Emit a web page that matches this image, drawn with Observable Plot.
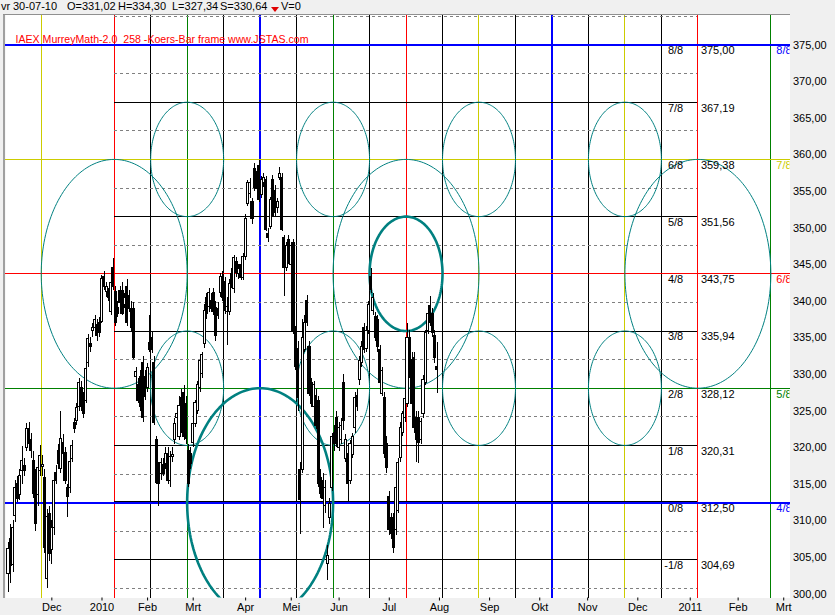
<!DOCTYPE html>
<html>
<head>
<meta charset="utf-8">
<script src="https://cdn.jsdelivr.net/npm/d3@7"></script>
<script src="https://cdn.jsdelivr.net/npm/@observablehq/plot@0.6"></script>
<style>
  html, body { margin: 0; padding: 0; background: #f0f0f0; }
  #wrap { position: relative; width: 835px; height: 615px; overflow: hidden; background: #f0f0f0;
          font-family: "Liberation Sans", Arial, sans-serif; }
  .hd { position: absolute; top: 0; font-size: 11px; line-height: 13px; color: #000; white-space: pre; }
  #tri { position: absolute; left: 271px; top: 7px; width: 0; height: 0;
         border-left: 4.5px solid transparent; border-right: 4.5px solid transparent; border-top: 5px solid #e00000; }
  #bl { position: absolute; left: 3px; top: 14px; width: 2px; height: 584px; background: #a0a0a0; }
  #bt { position: absolute; left: 3px; top: 14px; width: 787px; height: 1px; background: #909090; }
  #chart { position: absolute; left: 0; top: 0; }
</style>
</head>
<body>
<div id="wrap">
  <div id="chart"></div>
  <div id="bl"></div>
  <div id="bt"></div>
  <span class="hd" style="left:1px">vr</span>
  <span class="hd" style="left:13px">30-07-10</span>
  <span class="hd" style="left:67px">O=331,02</span>
  <span class="hd" style="left:118px">H=334,30</span>
  <span class="hd" style="left:172px">L=327,34</span>
  <span class="hd" style="left:220px">S=330,64</span>
  <div id="tri"></div>
  <span class="hd" style="left:281px">V=0</span>
</div>
<script>
// ---------- data ----------
const firstIndex = -41; // trading-day index of first candle (0 = 4 Jan 2010)

const opens = [
302.8,307.5,304.0,310.7,315.0,313.5,316.8,317.5,320.0,322.6,321.0,318.2,315.9,313.5,316.8,317.4,315.9,302.0,311.0,306.0,
309.0,316.6,319.6,317.1,320.7,319.3,314.5,314.5,318.5,323.4,323.7,325.5,328.2,326.8,326.4,331.6,334.2,336.0,336.4,336.7,
337.0,
337.1,343.3,341.2,341.1,338.5,344.5,341.2,339.1,341.4,341.4,339.5,341.9,340.7,339.0,339.0,329.6,328.5,329.6,331.6,329.6,
328.2,334.3,335.0,331.5,321.0,317.2,316.4,317.7,317.8,319.2,315.5,318.7,321.0,324.1,321.5,326.8,327.5,326.0,319.6,319.2,
320.7,323.3,325.0,328.2,330.1,334.2,340.4,339.2,340.0,341.1,339.1,339.0,341.1,343.3,342.6,338.5,338.5,343.7,341.7,345.4,
343.7,345.0,343.2,346.0,353.3,354.7,353.5,358.1,357.6,358.5,354.5,356.2,356.5,349.2,350.1,356.5,355.0,352.7,356.9,356.9,
348.6,344.5,348.3,345.0,347.9,335.6,333.5,316.9,316.9,333.3,340.1,333.7,328.8,325.5,327.0,326.4,315.9,315.5,312.0,304.1,
310.4,314.5,322.0,324.1,320.0,321.0,328.8,318.5,319.1,315.5,319.0,322.7,327.1,329.2,331.5,336.4,333.5,336.0,343.3,338.7,
337.8,337.4,333.3,327.4,326.8,320.5,313.2,310.4,310.4,308.7,311.4,318.6,322.0,324.0,326.0,335.0,332.0,332.3,324.0,324.1,
321.0,324.6,328.8,336.0,339.4,338.3,335.3,331.02];

const highs = [
307.0,309.5,310.0,315.5,316.0,317.0,320.2,318.5,323.3,323.5,322.0,319.5,317.0,318.0,320.3,319.0,317.0,311.5,312.0,310.0,
316.0,317.5,320.5,325.0,321.8,320.0,315.0,318.5,321.0,324.0,326.0,329.5,329.0,327.5,331.5,335.5,335.0,337.0,338.0,337.5,
337.8,
343.5,344.0,342.5,341.8,343.0,345.9,342.0,340.0,342.0,342.5,341.0,343.0,341.5,340.0,339.8,331.0,329.5,330.5,332.5,330.5,
331.5,338.0,335.8,332.5,321.5,318.0,318.5,318.5,320.0,320.0,319.5,320.0,324.0,325.0,327.0,328.0,328.5,327.0,320.5,320.0,
324.0,326.5,329.0,332.5,333.0,339.5,341.0,341.8,341.0,341.8,340.0,339.8,343.8,344.0,343.2,340.5,343.0,344.5,346.2,346.0,
345.0,345.5,346.5,351.8,356.5,356.8,354.0,358.8,358.3,359.2,357.0,357.5,357.0,350.0,354.2,357.2,355.8,354.0,358.3,357.5,
349.0,348.0,349.0,348.0,348.5,336.5,334.5,318.0,337.5,338.0,340.8,334.5,329.5,329.0,328.0,327.0,317.0,316.5,315.5,306.6,
313.0,322.0,323.0,325.0,323.5,324.0,330.0,321.8,320.0,321.0,322.0,327.5,328.0,332.5,334.5,337.0,336.5,340.0,344.5,341.0,
338.5,338.0,334.0,331.0,327.5,321.5,314.0,311.0,311.0,315.0,318.5,323.5,325.0,327.5,337.0,336.0,333.0,333.0,325.0,325.0,
324.0,329.8,336.0,339.0,340.7,339.0,336.0,334.3];

const lows = [
300.2,301.5,303.0,309.8,312.5,312.8,315.0,316.0,319.5,319.6,318.5,313.0,308.5,312.0,316.0,316.0,305.5,300.8,304.5,304.0,
308.0,315.0,317.0,316.5,318.5,315.0,310.4,313.8,318.0,322.0,323.0,325.0,325.0,324.0,326.0,331.0,333.0,335.0,336.0,334.5,
335.0,
337.0,341.5,340.5,340.0,338.0,341.5,336.5,337.8,339.2,338.0,339.0,336.5,338.5,335.8,332.0,328.0,326.0,325.0,323.5,326.5,
327.5,333.0,332.8,323.0,315.0,312.0,315.5,316.0,317.0,315.0,314.5,318.0,320.5,323.5,321.0,322.0,321.0,320.5,314.5,317.0,
320.0,322.8,324.5,327.5,329.5,333.5,337.5,338.5,338.5,338.0,334.5,337.5,340.5,340.0,338.2,334.0,338.0,341.8,341.0,343.2,
343.0,342.8,342.8,345.5,353.0,354.0,350.5,355.0,355.0,353.5,354.0,355.5,349.5,348.0,349.8,351.5,351.5,352.0,356.5,349.5,
340.6,344.0,345.0,344.5,335.5,330.5,325.0,308.2,316.5,333.0,336.5,327.0,325.5,325.0,322.5,314.5,313.0,309.0,311.0,301.8,
309.5,314.0,319.5,320.0,319.5,320.5,322.3,318.0,312.5,315.0,318.5,322.0,325.0,328.5,331.0,332.8,333.0,335.5,341.0,338.0,
334.5,333.0,328.0,327.0,318.5,316.5,308.0,307.5,305.5,308.0,311.0,318.0,321.5,323.5,325.5,329.5,325.5,322.0,318.0,317.8,
320.5,324.0,328.5,335.5,336.5,335.0,331.5,327.34];

const closes = [
306.2,303.8,309.0,314.5,313.0,316.2,318.2,316.8,322.6,320.5,319.6,313.7,309.6,317.2,318.9,317.6,306.3,310.5,305.5,309.0,
315.5,315.5,317.8,321.2,319.2,315.5,313.2,318.0,320.2,322.6,325.4,328.8,325.5,324.6,330.8,334.9,333.7,336.4,337.4,335.3,
335.6,
343.1,341.9,341.9,340.5,342.5,342.0,337.0,338.3,339.7,338.3,340.5,337.0,339.0,336.4,332.3,330.3,326.4,325.5,324.1,326.9,
330.9,333.3,333.3,323.4,315.2,315.0,317.9,316.4,319.2,315.5,318.7,319.0,323.3,324.6,325.7,322.7,321.4,321.2,315.0,317.8,
323.3,326.1,328.5,331.9,332.6,338.7,338.3,341.1,339.0,338.6,335.3,338.0,343.3,340.4,338.7,339.2,342.4,342.2,345.9,343.8,
344.4,343.2,346.0,351.3,356.1,356.1,351.2,355.5,355.4,353.8,356.5,356.8,349.7,348.7,353.8,351.7,352.0,353.5,357.4,349.7,
344.5,347.5,345.6,347.5,336.0,331.0,326.8,312.8,335.0,337.0,337.0,327.4,326.0,328.5,323.0,315.0,313.7,313.0,314.5,305.2,
312.3,321.4,320.5,320.6,322.7,323.0,323.7,321.0,315.0,320.5,321.5,326.8,325.5,331.9,333.7,333.3,336.0,339.5,341.5,340.5,
335.0,333.7,328.8,330.5,319.1,317.2,308.7,308.2,306.3,314.5,317.9,322.7,324.6,326.7,335.0,330.0,326.0,322.7,321.0,320.6,
323.5,329.2,335.6,338.3,337.0,335.6,332.3,330.64];

// month ticks (trading-day index of first day of month) and labels
const monthIdx    = [-22, 0, 20, 40, 63, 83, 104, 126, 148, 170, 192, 213, 235, 258, 279, 299];
const monthLabels = ["Dec","2010","Feb","Mrt","Apr","Mei","Jun","Jul","Aug","Sep","Okt","Nov","Dec","2011","Feb","Mrt"];

// price axis ticks
const priceTicks = [300,305,310,315,320,325,330,335,340,345,350,355,360,365,370,375];

// Murrey math levels
const levelValues    = [375, 367.1875, 359.375, 351.5625, 343.75, 335.9375, 328.125, 320.3125, 312.5, 304.6875];
const levelFractions = ["8/8","7/8","6/8","5/8","4/8","3/8","2/8","1/8","0/8","-1/8"];
const levelLabels    = ["375,00","367,19","359,38","351,56","343,75","335,94","328,12","320,31","312,50","304,69"];
const halfLevels     = [378.906, 371.094, 363.281, 355.469, 347.656, 339.844, 332.031, 324.219, 316.406, 308.594, 300.781];

const majorLevels = [375, 359.375, 343.75, 328.125, 312.5];
const majorColors = ["#0000ff", "#cccc00", "#ff0000", "#008000", "#0000ff"];
const majorWidths = [2.5, 1, 1, 1, 2];
const majorTags   = ["8/8", "7/8", "6/8", "5/8", "4/8"];

const minorLevels = [367.1875, 351.5625, 335.9375, 320.3125, 304.6875];
const zeroLevel = [312.5];

// Murrey math time lines (bar index)
const timeLineIdx    = [-26.65, 5.35, 21.35, 37.35, 53.35, 69.35, 85.35, 101.35, 117.35, 133.35, 149.35,
                        165.35, 181.35, 197.35, 213.35, 229.35, 245.35, 261.35, 293.35];
const timeLineColors = ["#cccc00","#ff0000","#000000","#008000","#000000","#0000ff","#000000","#008000","#000000","#ff0000",
                        "#000000","#cccc00","#000000","#0000ff","#000000","#cccc00","#000000","#ff0000","#008000"];
const timeLineWidths = [1,1,1,1,1,2,1,1,1,1,1,1,1,2,1,1,1,1,1];
const gridStart = 5.35, gridEnd = 261.35, fracLabelAt = 245.35, outerLabelAt = 293.35;

// Murrey math ellipses (centre in bar index / price, radii in bars / price)
const ellX  = [5.35, 133.35, 261.35, 37.35, 37.35, 101.35, 101.35, 165.35, 165.35, 229.35, 229.35];
const ellY  = [343.75, 343.75, 343.75, 359.375, 328.125, 359.375, 328.125, 359.375, 328.125, 359.375, 328.125];
const ellRx = [32, 32, 32, 16, 16, 16, 16, 16, 16, 16, 16];
const ellRy = [15.625, 15.625, 15.625, 7.8125, 7.8125, 7.8125, 7.8125, 7.8125, 7.8125, 7.8125, 7.8125];
const thickX  = [133.35, 69.35];
const thickY  = [343.75, 312.5];
const thickRx = [16, 32];
const thickRy = [7.8125, 15.625];

const titleText = "IAEX MurreyMath-2.0  258 -Koers-Bar frame www.JSTAS.com";

// ---------- build ----------
const candles = opens.map((o, k) => ({i: firstIndex + k, open: o, high: highs[k], low: lows[k], close: closes[k]}));

function ellipsePoints(xs, ys, rxs, rys) {
  const pts = [];
  xs.forEach((cx, k) => {
    for (let a = 0; a <= 360; a += 2) {
      const t = a * Math.PI / 180;
      pts.push({k, x: cx + rxs[k] * Math.cos(t), y: ys[k] + rys[k] * Math.sin(t)});
    }
  });
  return pts;
}
const thinPts = ellipsePoints(ellX, ellY, ellRx, ellRy);
const thickPts = ellipsePoints(thickX, thickY, thickRx, thickRy);

const chart = Plot.plot({
  width: 835,
  height: 615,
  marginLeft: 5,
  marginRight: 45.5,
  marginTop: 14.5,
  marginBottom: 17.5,
  style: {background: "transparent", fontFamily: "Liberation Sans, Arial, sans-serif", fontSize: "11px", color: "#000", overflow: "visible"},
  x: {type: "linear", domain: [-42.32, 301.75]},
  y: {type: "linear", domain: [299.47, 379.1]},
  color: {type: "identity"},
  marks: [
    Plot.frame({fill: "white", stroke: "none"}),
    // time lines
    Plot.ruleX(timeLineIdx, {x: d => d, stroke: (d, k) => timeLineColors[k], strokeWidth: (d, k) => timeLineWidths[k], shapeRendering: "crispEdges"}),
    // dashed half levels
    Plot.ruleY(halfLevels, {y: d => d, x1: gridStart, x2: gridEnd, stroke: "#808080", strokeDasharray: "3,3", shapeRendering: "crispEdges"}),
    // black level segments
    Plot.ruleY(minorLevels, {y: d => d, x1: gridStart, x2: gridEnd, stroke: "#000000", strokeWidth: 1, shapeRendering: "crispEdges"}),
    // full-width coloured levels
    Plot.ruleY(majorLevels, {y: d => d, stroke: (d, k) => majorColors[k], strokeWidth: (d, k) => majorWidths[k], shapeRendering: "crispEdges"}),
    // black 0/8 segment on top half of the blue line
    Plot.ruleY(zeroLevel, {y: d => d, x1: gridStart, x2: gridEnd, stroke: "#000000", strokeWidth: 1, dy: -1, shapeRendering: "crispEdges"}),
    // ellipses
    Plot.line(thinPts, {x: "x", y: "y", z: "k", stroke: "#008080", strokeWidth: 1, clip: true, curve: "linear"}),
    Plot.line(thickPts, {x: "x", y: "y", z: "k", stroke: "#008080", strokeWidth: 2.6, clip: true, curve: "linear"}),
    // candles
    Plot.ruleX(candles, {x: "i", y1: "low", y2: "high", stroke: "#000", strokeWidth: 1, clip: true, shapeRendering: "crispEdges"}),
    Plot.rect(candles, {
      x1: d => d.i - 0.46, x2: d => d.i + 0.46, y1: "open", y2: "close",
      fill: d => d.close >= d.open ? "#ffffff" : "#000000", stroke: "#000", strokeWidth: 1, clip: true, shapeRendering: "crispEdges"
    }),
    // level labels
    Plot.text(levelValues, {x: fracLabelAt, y: d => d, text: (d, k) => levelFractions[k], textAnchor: "end", lineAnchor: "top", dx: 21.8, dy: 1.5, fill: "#000", fontSize: 11}),
    Plot.text(levelValues, {x: gridEnd, y: d => d, text: (d, k) => levelLabels[k], textAnchor: "start", lineAnchor: "top", dx: 3, dy: 1.5, fill: "#000", fontSize: 11}),
    Plot.text(majorLevels, {x: outerLabelAt, y: d => d, text: (d, k) => majorTags[k], fill: (d, k) => majorColors[k], textAnchor: "start", lineAnchor: "top", dx: 5.5, dy: 1.5, fontSize: 11, clip: true}),
    // title
    Plot.text([titleText], {frameAnchor: "top-left", text: d => d, textAnchor: "start", lineAnchor: "middle", dx: 10, dy: 25, fill: "#ff0000", fontSize: 10.6}),
    // axes
    Plot.axisY(priceTicks, {anchor: "right", tickSize: 0, tickPadding: 3, tickFormat: d => d.toFixed(2).replace(".", ","), fontSize: 11}),
    Plot.axisX(monthIdx, {anchor: "bottom", tickSize: 3, tickPadding: 2, tickFormat: (d, k) => monthLabels[k], fontSize: 11})
  ]
});
document.getElementById("chart").appendChild(chart);
</script>
</body>
</html>
